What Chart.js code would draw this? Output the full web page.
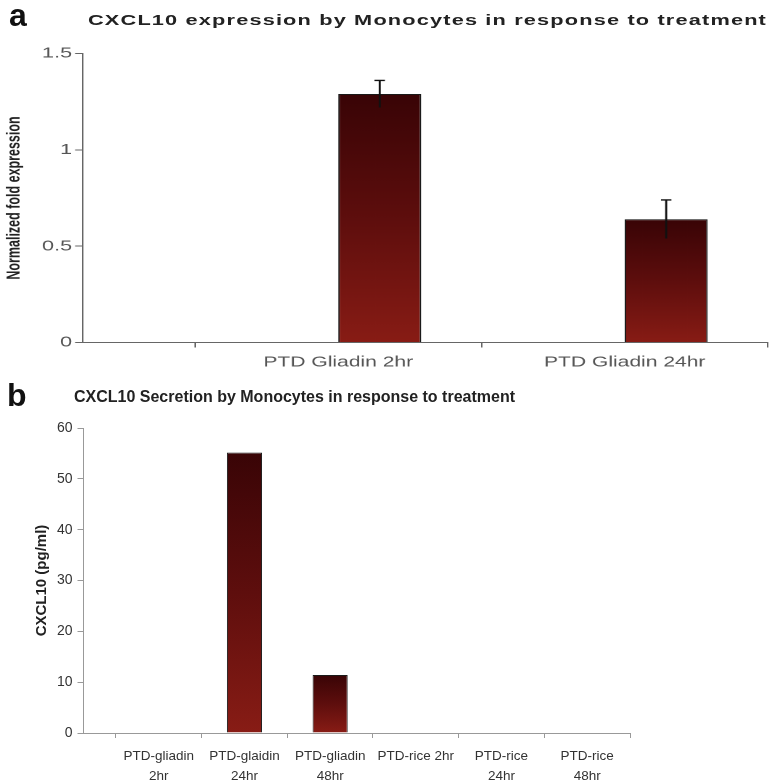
<!DOCTYPE html>
<html>
<head>
<meta charset="utf-8">
<script src="https://cdn.jsdelivr.net/npm/chart.js@4.4.1/dist/chart.umd.min.js"></script>
<style>
html,body{margin:0;padding:0;background:#fff;}
#wrap{position:relative;width:772px;height:782px;overflow:hidden;background:#fff;font-family:"Liberation Sans",Arial,sans-serif;}
#cA{position:absolute;left:0;top:0;}
#cB{position:absolute;left:0;top:380px;}
.lbl{position:absolute;font-weight:bold;line-height:1;white-space:nowrap;color:#111;}
</style>
</head>
<body>
<div id="wrap">
  <canvas id="cA" width="532" height="380" style="width:772px;height:380px"></canvas>
  <canvas id="cB" width="772" height="402" style="width:772px;height:402px"></canvas>
  <div class="lbl" style="left:9px;top:-1px;font-size:32px;">a</div>
  <div class="lbl" style="left:88px;top:12px;font-size:15px;letter-spacing:0.8px;transform:scaleX(1.45);transform-origin:0 0;color:#222;">CXCL10 expression by Monocytes in response to treatment</div>
  <div class="lbl" style="left:7px;top:379px;font-size:32px;">b</div>
  <div class="lbl" style="left:74px;top:389px;font-size:16px;color:#222;">CXCL10 Secretion by Monocytes in response to treatment</div>
</div>
<script>
// ---------- Data: panel a ----------
const categoriesA = ['', 'PTD Gliadin 2hr', 'PTD Gliadin 24hr'];
const emptySeriesA = [null, null, null];          // empty companion series (no bars drawn)
const valuesA = [null, 1.29, 0.64];               // normalized fold expression
const errorsA = [null, 0.07, 0.10];               // error bar half-lengths
const yTicksA = [0, 0.5, 1, 1.5];

// ---------- Data: panel b ----------
const categoriesB = [['PTD-gliadin', '2hr'], ['PTD-glaidin', '24hr'], ['PTD-gliadin', '48hr'],
                     'PTD-rice 2hr', ['PTD-rice', '24hr'], ['PTD-rice', '48hr']];
const valuesB = [0, 55.2, 11.4, 0, 0, 0];         // CXCL10 (pg/ml)
const yTicksB = [0, 10, 20, 30, 40, 50, 60];

// ---------- Layout / style constants ----------
const X_START_A = 0.109;   // first visible category position (axis starts inside the blank category)
const X_START_B = -0.879;  // axis line extends left of the first category
const FONT = '"Liberation Sans", Arial, sans-serif';
Chart.defaults.font.family = FONT;

function barGradient(ctx) {
  const chart = ctx.chart;
  const fallback = '#6a1410';
  if (ctx.type !== 'data' || !chart.chartArea) return fallback;
  const v = ctx.raw;
  if (v == null) return 'rgba(0,0,0,0)';
  const y = chart.scales.y;
  const top = y.getPixelForValue(v);
  const bottom = y.getPixelForValue(0);
  if (!isFinite(top) || !isFinite(bottom) || bottom - top < 1) return fallback;
  const g = chart.ctx.createLinearGradient(0, top, 0, bottom);
  g.addColorStop(0, '#390406');
  g.addColorStop(0.5, '#5e0e0d');
  g.addColorStop(1, '#881c15');
  return g;
}

const errorBars = {
  id: 'errorBars',
  afterDatasetsDraw(chart) {
    const meta = chart.getDatasetMeta(1);
    const y = chart.scales.y;
    const c = chart.ctx;
    c.save();
    c.strokeStyle = '#111';
    c.lineWidth = 1.4;
    meta.data.forEach((bar, i) => {
      const v = valuesA[i], e = errorsA[i];
      if (v == null || e == null) return;
      const yt = y.getPixelForValue(v + e);
      const yb = y.getPixelForValue(v - e);
      const cap = 3.6;
      c.beginPath();
      c.moveTo(bar.x, yt); c.lineTo(bar.x, yb);
      c.moveTo(bar.x - cap, yt); c.lineTo(bar.x + cap, yt);
      c.stroke();
    });
    c.restore();
  }
};

// ---------- Panel a ----------
new Chart(document.getElementById('cA'), {
  type: 'bar',
  data: {
    labels: categoriesA,
    datasets: [
      { label: 'Series 1', data: emptySeriesA, backgroundColor: 'rgba(0,0,0,0)',
        categoryPercentage: 0.579, barPercentage: 1 },
      { label: 'CXCL10 expression', data: valuesA, backgroundColor: barGradient,
        borderColor: '#1a1a1a', borderWidth: 1, borderSkipped: 'bottom',
        categoryPercentage: 0.579, barPercentage: 1 }
    ]
  },
  options: {
    responsive: false,
    devicePixelRatio: 2,
    animation: false,
    layout: { padding: { top: 53.5, right: 2.8, left: 0, bottom: 0 } },
    plugins: { legend: { display: false }, tooltip: { enabled: false } },
    scales: {
      x: {
        type: 'category',
        offset: true,
        afterBuildTicks: s => { s._startValue = X_START_A; s._valueRange = categoriesA.length - 0.5 - X_START_A; },
        afterFit: s => { s.height = 37.5; },
        grid: { display: true, drawOnChartArea: false, drawTicks: true, tickLength: 5, color: '#666', lineWidth: 1 },
        border: { display: true, color: '#666', width: 1 },
        ticks: { font: { size: 14.5 }, color: '#555', padding: 6.3, maxRotation: 0, autoSkip: false }
      },
      y: {
        min: 0, max: 1.5,
        afterBuildTicks: s => { s.ticks = yTicksA.map(v => ({ value: v })); },
        afterFit: s => { s.width = 57.2; },
        grid: { drawOnChartArea: false, drawTicks: true, tickLength: 5.5, color: '#666' },
        border: { display: true, color: '#666', width: 1 },
        ticks: { font: { size: 15 }, color: '#555', padding: 2, callback: v => String(v) },
        title: { display: true, text: 'Normalized fold expression', color: '#222',
                 font: { size: 12.5, weight: 'bold' }, padding: { top: 2.5, bottom: 0 } }
      }
    }
  },
  plugins: [errorBars]
});

// ---------- Panel b ----------
new Chart(document.getElementById('cB'), {
  type: 'bar',
  data: {
    labels: categoriesB,
    datasets: [
      { label: 'CXCL10 (pg/ml)', data: valuesB, backgroundColor: barGradient,
        borderColor: '#1a1a1a', borderWidth: ctx => (ctx.raw ? 1 : 0), borderSkipped: 'bottom',
        categoryPercentage: 1, barPercentage: 0.41 }
    ]
  },
  options: {
    responsive: false,
    devicePixelRatio: 1,
    animation: false,
    layout: { padding: { top: 48, right: 142, left: 0, bottom: 0 } },
    plugins: { legend: { display: false }, tooltip: { enabled: false } },
    scales: {
      x: {
        type: 'category',
        offset: true,
        afterBuildTicks: s => { s._startValue = X_START_B; s._valueRange = categoriesB.length - 0.5 - X_START_B; },
        afterFit: s => { s.height = 49; },
        grid: { display: true, drawOnChartArea: false, drawTicks: true, tickLength: 5, color: '#999' },
        border: { display: true, color: '#999', width: 1 },
        ticks: { font: { size: 13.5, lineHeight: 1.45 }, color: '#333', padding: 8.5, maxRotation: 0, autoSkip: false }
      },
      y: {
        min: 0, max: 60,
        afterBuildTicks: s => { s.ticks = yTicksB.map(v => ({ value: v })); },
        afterFit: s => { s.width = 83.5; },
        grid: { drawOnChartArea: false, drawTicks: true, tickLength: 6, color: '#999' },
        border: { display: true, color: '#999', width: 1 },
        ticks: { font: { size: 14 }, color: '#333', padding: 5 },
        title: { display: true, text: 'CXCL10 (pg/ml)', color: '#222',
                 font: { size: 15, weight: 'bold' }, padding: { top: 33, bottom: 0 } }
      }
    }
  }
});
</script>
</body>
</html>
